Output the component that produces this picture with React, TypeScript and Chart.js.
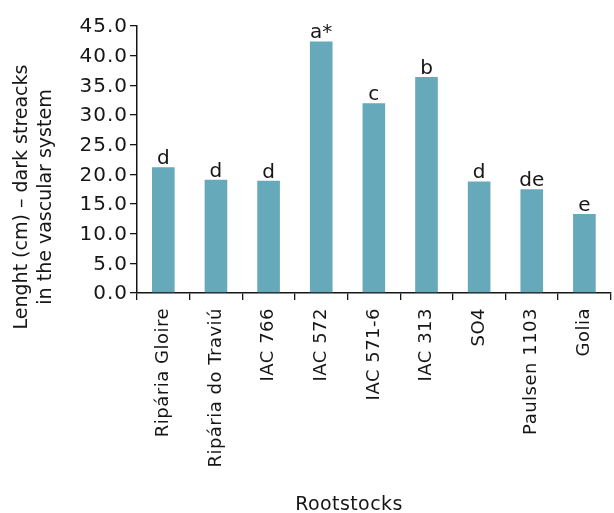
import React, { useEffect, useRef } from "react";
import { Chart, registerables } from "chart.js";

Chart.register(...registerables);

const categories = [
  "Ripária Gloire",
  "Ripária do Traviú",
  "IAC 766",
  "IAC 572",
  "IAC 571-6",
  "IAC 313",
  "SO4",
  "Paulsen 1103",
  "Golia",
];
const values = [21.2, 19.1, 18.9, 42.4, 32.0, 36.4, 18.8, 17.5, 13.3];
const letters = ["d", "d", "d", "a*", "c", "b", "d", "de", "e"];
const yTitleLines = ["Lenght (cm) – dark streacks", "in the vascular system"];
const xTitle = "Rootstocks";

const FONT = "'DejaVu Sans', sans-serif";
const TEXT = "#161616";
const BAR = "#65A9BB";

export default function App() {
  const ref = useRef<HTMLCanvasElement | null>(null);

  useEffect(() => {
    const canvas = ref.current;
    if (!canvas) return;

    const textPlugin = {
      id: "texts",
      beforeDraw(chart: any) {
        chart.ctx.letterSpacing = "0.5px";
      },
      afterDraw(chart: any) {
        const ctx = chart.ctx;
        ctx.save();
        ctx.fillStyle = TEXT;

        // y tick labels
        const y = chart.scales.y;
        ctx.font = `20px ${FONT}`;
        ctx.letterSpacing = "1px";
        ctx.textAlign = "right";
        ctx.textBaseline = "middle";
        y.ticks.forEach((t: any) => {
          ctx.fillText(Number(t.value).toFixed(1), 128, y.getPixelForValue(t.value) + 1);
        });

        // letters above bars
        ctx.letterSpacing = "0px";
        ctx.font = `20px ${FONT}`;
        ctx.textAlign = "center";
        ctx.textBaseline = "alphabetic";
        const meta = chart.getDatasetMeta(0);
        meta.data.forEach((bar: any, i: number) => {
          ctx.fillText(letters[i], bar.x, bar.y - 3);
        });

        // axis titles
        ctx.font = `19px ${FONT}`;
        const xs = [27, 51];
        yTitleLines.forEach((line, i) => {
          ctx.save();
          ctx.translate(xs[i], 197);
          ctx.rotate(-Math.PI / 2);
          ctx.fillText(line, 0, 0);
          ctx.restore();
        });
        ctx.letterSpacing = "0.4px";
        ctx.fillText(xTitle, 349, 510);
        ctx.restore();
        ctx.letterSpacing = "0px";
      },
    };

    const chart = new Chart(canvas, {
      type: "bar",
      data: {
        labels: categories,
        datasets: [
          {
            data: values,
            backgroundColor: BAR,
            borderWidth: 0,
            categoryPercentage: 1,
            barPercentage: 0.43,
          },
        ],
      },
      options: {
        responsive: false,
        animation: false,
        layout: { padding: { top: 26, right: 0, left: 0, bottom: 0 } },
        plugins: {
          legend: { display: false },
          tooltip: { enabled: false },
          title: { display: false },
        },
        scales: {
          x: {
            offset: true,
            grid: {
              offset: true,
              drawOnChartArea: false,
              drawTicks: true,
              tickLength: 7,
              color: TEXT,
              lineWidth: 1.3,
            },
            border: { display: true, color: TEXT, width: 1.5 },
            ticks: {
              color: TEXT,
              font: { family: FONT, size: 18 },
              minRotation: 90,
              maxRotation: 90,
              padding: 8,
              autoSkip: false,
            },
            afterFit(scale: any) {
              scale.height = 220;
            },
          },
          y: {
            min: 0,
            max: 45,
            grid: {
              drawOnChartArea: false,
              drawTicks: true,
              tickLength: 7,
              color: TEXT,
              lineWidth: 1.3,
            },
            border: { display: true, color: TEXT, width: 1.5 },
            ticks: {
              stepSize: 5,
              color: "rgba(0,0,0,0)",
              padding: 3,
              font: { family: FONT, size: 18 },
              callback: (v: any) => Number(v).toFixed(1),
            },
            afterFit(scale: any) {
              scale.width = 137;
            },
          },
        },
      },
      plugins: [textPlugin],
    });

    return () => chart.destroy();
  }, []);

  return (
    <div style={{ position: "absolute", left: 0, top: 0, width: 614, height: 513, background: "#fff" }}>
      <canvas ref={ref} width={614} height={513} style={{ display: "block" }} />
    </div>
  );
}
